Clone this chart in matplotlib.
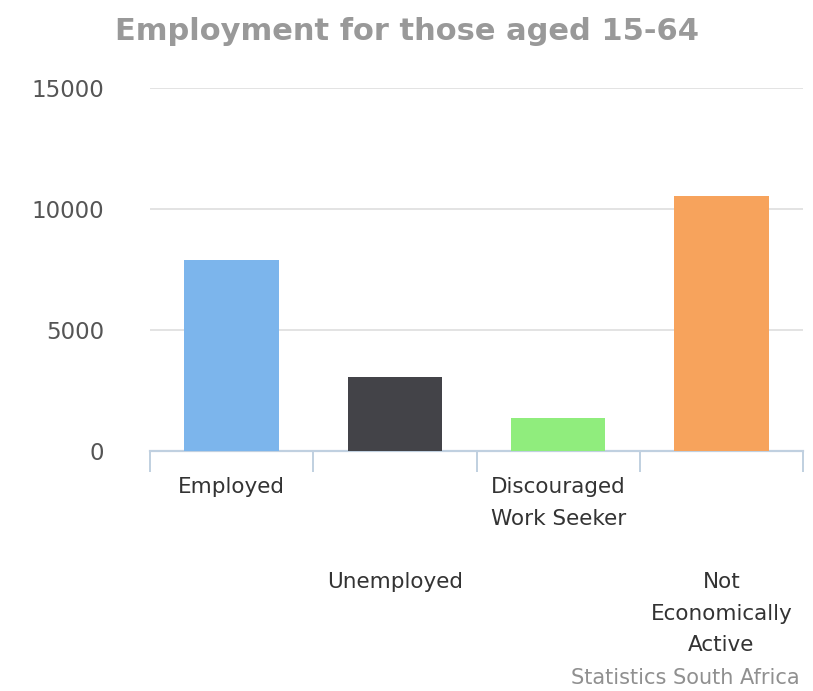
import matplotlib.pyplot as plt
import numpy as np

# Data
categories = ['Employed', 'Unemployed', 'Discouraged\nWork Seeker', 'Not\nEconomically\nActive']
values = [7880, 3040, 1370, 10520]
colors = ['#7cb5ec', '#434348', '#90ed7d', '#f7a35c']
y_ticks = [0, 5000, 10000, 15000]

fig = plt.figure(figsize=(8.13, 6.91), dpi=100)
ax = fig.add_axes([150 / 813, 1 - 451 / 691, 653 / 813, 363 / 691])

x = np.arange(len(categories))
ax.bar(x, values, width=0.58, color=colors, zorder=3)

ax.set_xlim(-0.5, len(categories) - 0.5)
ax.set_ylim(0, 15000)
ax.set_yticks(y_ticks)
ax.set_yticklabels([str(v) for v in y_ticks])
ax.grid(axis='y', color='#e3e3e3', linewidth=1.4, zorder=0)
ax.tick_params(axis='y', length=0, pad=33, labelsize=16.5, labelcolor='#555555')

# category boundaries as ticks
ax.set_xticks(np.arange(-0.5, len(categories), 1.0))
ax.set_xticklabels([])
ax.tick_params(axis='x', length=15, width=1.4, color='#c0d0e0', direction='out')

for s in ['top', 'right', 'left']:
    ax.spines[s].set_visible(False)
ax.spines['bottom'].set_color('#c0d0e0')
ax.spines['bottom'].set_linewidth(1.6)

# staggered category labels
offsets = [26, 121, 26, 121]
for i, (lab, off) in enumerate(zip(categories, offsets)):
    ax.annotate(lab, xy=(i, 0), xycoords=('data', 'axes fraction'),
                xytext=(0, -off), textcoords='offset pixels',
                ha='center', va='top', fontsize=15.5, color='#333333',
                linespacing=1.72)

fig.text(0.5, 1 - 31 / 691, 'Employment for those aged 15-64', ha='center', va='center',
         fontsize=22, fontweight='bold', color='#999999')
fig.text(800 / 813, 1 - 678 / 691, 'Statistics South Africa', ha='right', va='center',
         fontsize=15, color='#909090')

fig.savefig('out.png', dpi=100)
